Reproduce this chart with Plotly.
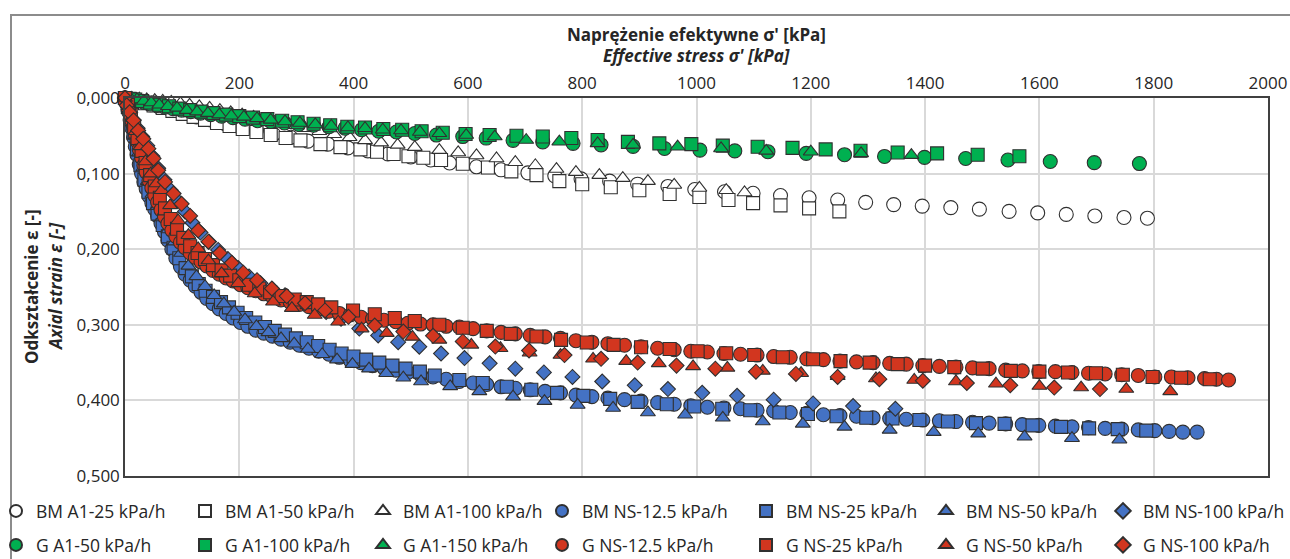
import plotly.graph_objects as go

# ---------------- data ----------------
# BM A1 series (white markers)
bm_a1_25_x = [0, 10, 20, 30, 45, 60, 80, 100, 125, 150, 175, 200, 230, 260, 290, 320, 355, 390, 425, 460, 500, 535,
              568, 615, 658, 705, 752, 798, 848, 897, 950, 997, 1049, 1099, 1147, 1197, 1247, 1296, 1345, 1395, 1445,
              1495, 1547, 1597, 1647, 1697, 1748, 1789]
bm_a1_25_y = [0, 0.002, 0.004, 0.006, 0.009, 0.012, 0.016, 0.020, 0.025, 0.029, 0.034, 0.038, 0.043, 0.048, 0.052,
              0.057, 0.061, 0.066, 0.070, 0.074, 0.078, 0.082, 0.086, 0.091, 0.095, 0.099, 0.103, 0.107, 0.110, 0.114,
              0.117, 0.121, 0.124, 0.126, 0.129, 0.132, 0.135, 0.138, 0.141, 0.143, 0.145, 0.147, 0.150, 0.152, 0.154,
              0.156, 0.158, 0.159]

bm_a1_50_x = [0, 10, 22, 35, 50, 66, 83, 101, 120, 140, 161, 183, 206, 230, 255, 281, 307, 342, 377, 412, 441, 470,
              496, 522, 553, 591, 635, 676, 720, 760, 800, 850, 900, 953, 1005, 1056, 1099, 1147, 1197, 1250]
bm_a1_50_y = [0, 0.002, 0.004, 0.007, 0.010, 0.013, 0.017, 0.021, 0.025, 0.029, 0.033, 0.037, 0.041, 0.045, 0.049,
              0.053, 0.056, 0.061, 0.065, 0.068, 0.071, 0.074, 0.077, 0.079, 0.082, 0.087, 0.092, 0.097, 0.102, 0.110,
              0.114, 0.118, 0.122, 0.127, 0.131, 0.135, 0.139, 0.142, 0.146, 0.150]

bm_a1_100_x = [0, 12, 25, 38, 52, 66, 81, 97, 113, 130, 148, 166, 185, 205, 225, 246, 268, 291, 315, 340, 366, 393,
               420, 448, 477, 507, 550, 583, 615, 650, 683, 718, 755, 789, 830, 871, 915, 961, 1005, 1052, 1084]
bm_a1_100_y = [0, 0.000, 0.001, 0.002, 0.003, 0.004, 0.005, 0.007, 0.009, 0.011, 0.013, 0.016, 0.019, 0.022, 0.025,
               0.029, 0.032, 0.036, 0.040, 0.044, 0.048, 0.052, 0.056, 0.059, 0.062, 0.065, 0.069, 0.072, 0.076, 0.080,
               0.085, 0.089, 0.094, 0.098, 0.102, 0.106, 0.110, 0.115, 0.119, 0.122, 0.125]

# BM NS series (blue markers)
bm_ns_12_x = [0, 3, 6, 9, 12, 15, 18, 21, 25, 29, 33, 37, 42, 47, 52, 57, 63, 69, 75, 82, 89, 97, 105, 114, 123, 133,
              143, 154, 165, 177, 189, 202, 215, 229, 243, 258, 273, 289, 305, 322, 339, 357, 375, 394, 413, 433, 453,
              474, 495, 517, 539, 562, 585, 609, 633, 658, 683, 709, 735, 762, 789, 817, 845, 874, 903, 932, 961, 990,
              1019, 1048, 1077, 1106, 1135, 1164, 1193, 1222, 1251, 1280, 1309, 1338, 1367, 1396, 1425, 1454, 1483,
              1512, 1541, 1570, 1599, 1628, 1657, 1686, 1715, 1744, 1773, 1802, 1827, 1851, 1876]
bm_ns_12_y = [0, 0.008, 0.018, 0.029, 0.040, 0.052, 0.064, 0.075, 0.088, 0.100, 0.111, 0.120, 0.130, 0.139, 0.147,
              0.156, 0.166, 0.177, 0.188, 0.200, 0.212, 0.223, 0.233, 0.241, 0.249, 0.257, 0.265, 0.272, 0.279, 0.285,
              0.291, 0.297, 0.302, 0.307, 0.311, 0.315, 0.319, 0.323, 0.327, 0.331, 0.335, 0.339, 0.343, 0.347, 0.350,
              0.354, 0.357, 0.360, 0.363, 0.366, 0.369, 0.372, 0.375, 0.377, 0.379, 0.382, 0.384, 0.386, 0.388, 0.390,
              0.393, 0.395, 0.397, 0.399, 0.401, 0.403, 0.405, 0.407, 0.409, 0.410, 0.411, 0.413, 0.414, 0.416, 0.417,
              0.419, 0.420, 0.421, 0.423, 0.424, 0.425, 0.426, 0.427, 0.428, 0.429, 0.430, 0.431, 0.432, 0.433, 0.434,
              0.435, 0.436, 0.437, 0.438, 0.439, 0.440, 0.441, 0.442, 0.442]

bm_ns_25_x = [0, 5, 10, 15, 21, 27, 34, 41, 49, 57, 66, 75, 85, 95, 106, 117, 129, 141, 154, 168, 182, 197, 212, 228,
              245, 262, 280, 299, 318, 338, 358, 379, 400, 422, 445, 468, 491, 516, 542, 585, 626, 668, 711, 756, 802,
              849, 897, 948, 996, 1045, 1094, 1145, 1195, 1245, 1297, 1343, 1390, 1440, 1489, 1539, 1588, 1638, 1687,
              1737, 1787]
bm_ns_25_y = [0, 0.012, 0.028, 0.046, 0.068, 0.089, 0.108, 0.124, 0.139, 0.153, 0.168, 0.183, 0.198, 0.212, 0.225,
              0.236, 0.246, 0.255, 0.263, 0.270, 0.277, 0.284, 0.291, 0.297, 0.303, 0.308, 0.313, 0.318, 0.323, 0.328,
              0.333, 0.338, 0.342, 0.346, 0.350, 0.354, 0.358, 0.362, 0.367, 0.373, 0.377, 0.382, 0.386, 0.390, 0.394,
              0.398, 0.402, 0.405, 0.408, 0.411, 0.413, 0.416, 0.418, 0.421, 0.423, 0.424, 0.426, 0.428, 0.430, 0.431,
              0.433, 0.435, 0.437, 0.438, 0.440]

bm_ns_50_x = [0, 6, 12, 18, 25, 32, 40, 48, 57, 66, 76, 87, 98, 111, 125, 140, 156, 173, 191, 210, 230, 251, 273, 296,
              320, 345, 371, 398, 427, 457, 487, 518, 569, 620, 679, 734, 792, 854, 915, 980, 1046, 1116, 1186, 1259,
              1338, 1415, 1493, 1574, 1657, 1740]
bm_ns_50_y = [0, 0.012, 0.030, 0.050, 0.072, 0.092, 0.110, 0.127, 0.143, 0.158, 0.174, 0.190, 0.205, 0.222, 0.236,
              0.249, 0.261, 0.272, 0.283, 0.293, 0.302, 0.310, 0.318, 0.325, 0.332, 0.339, 0.346, 0.352, 0.358, 0.364,
              0.370, 0.375, 0.3815, 0.388, 0.395, 0.401, 0.406, 0.410, 0.416, 0.419, 0.423, 0.428, 0.431, 0.435,
              0.439, 0.442, 0.444, 0.448, 0.450, 0.452]

bm_ns_100_x = [0, 4, 9, 15, 22, 30, 39, 48, 58, 69, 80, 92, 105, 118, 132, 147, 163, 180, 198, 217, 237, 258, 280,
               303, 327, 352, 378, 410, 443, 478, 515, 553, 594, 638, 683, 733, 783, 835, 892, 950, 1010, 1071, 1135,
               1204, 1274, 1348]
bm_ns_100_y = [0, 0.010, 0.019, 0.029, 0.040, 0.051, 0.063, 0.077, 0.093, 0.108, 0.122, 0.136, 0.150, 0.165, 0.178,
               0.190, 0.201, 0.213, 0.225, 0.236, 0.245, 0.253, 0.261, 0.269, 0.276, 0.283, 0.292, 0.305, 0.314, 0.323,
               0.329, 0.338, 0.344, 0.351, 0.358, 0.363, 0.369, 0.375, 0.380, 0.385, 0.390, 0.394, 0.399, 0.404,
               0.4075, 0.411]

# G A1 series (green markers)
g_a1_50_x = [0, 7, 15, 24, 34, 45, 57, 70, 84, 99, 115, 132, 150, 169, 189, 210, 232, 255, 279, 304, 330, 357, 385,
             414, 444, 475, 507, 545, 591, 632, 679, 731, 784, 833, 889, 944, 1006, 1067, 1125, 1192, 1259, 1329, 1399,
             1471, 1545, 1619, 1696, 1775]
g_a1_50_y = [0, 0.001, 0.002, 0.004, 0.006, 0.008, 0.010, 0.012, 0.014, 0.016, 0.018, 0.020, 0.022, 0.024, 0.026,
             0.028, 0.030, 0.031, 0.033, 0.035, 0.036, 0.038, 0.040, 0.042, 0.044, 0.045, 0.047, 0.049, 0.051, 0.053,
             0.056, 0.058, 0.060, 0.062, 0.064, 0.0667, 0.069, 0.070, 0.071, 0.0733, 0.075, 0.0773, 0.0785, 0.080,
             0.082, 0.084, 0.0855, 0.0867]

g_a1_100_x = [0, 8, 18, 30, 44, 60, 77, 95, 114, 134, 155, 177, 200, 224, 249, 275, 302, 330, 359, 389, 420, 452, 485,
              519, 556, 596, 638, 685, 731, 781, 827, 880, 935, 991, 1046, 1107, 1168, 1226, 1287, 1352, 1421, 1492,
              1565]
g_a1_100_y = [0, 0.001, 0.002, 0.004, 0.006, 0.009, 0.011, 0.014, 0.016, 0.018, 0.020, 0.022, 0.024, 0.026, 0.028,
              0.030, 0.032, 0.034, 0.036, 0.038, 0.039, 0.041, 0.042, 0.044, 0.046, 0.0476, 0.049, 0.050, 0.051, 0.053,
              0.0556, 0.058, 0.060, 0.061, 0.063, 0.0645, 0.066, 0.068, 0.0698, 0.072, 0.0733, 0.075, 0.077]

g_a1_150_x = [0, 10, 21, 33, 46, 60, 75, 91, 108, 126, 145, 165, 186, 208, 231, 255, 280, 306, 333, 361, 390, 420,
              451, 483, 516, 550, 597, 647, 702, 760, 827, 889, 967, 1043, 1122, 1200, 1288, 1376]
g_a1_150_y = [0, 0.001, 0.002, 0.004, 0.006, 0.009, 0.011, 0.013, 0.016, 0.018, 0.020, 0.022, 0.0235, 0.025, 0.027,
              0.029, 0.031, 0.033, 0.035, 0.037, 0.039, 0.040, 0.042, 0.043, 0.045, 0.0467, 0.049, 0.051, 0.0556,
              0.0578, 0.060, 0.062, 0.0644, 0.0667, 0.070, 0.071, 0.0733, 0.0756]

# G NS series (red markers)
g_ns_12_x = [0, 3, 6, 9, 12, 15, 18, 21, 25, 29, 33, 37, 42, 47, 52, 57, 63, 69, 75, 82, 89, 97, 105, 114, 123, 133,
             143, 154, 165, 177, 189, 202, 215, 229, 243, 258, 273, 289, 305, 322, 339, 357, 375, 394, 413, 433, 453,
             474, 495, 517, 539, 562, 585, 609, 633, 658, 683, 709, 735, 762, 789, 817, 845, 874, 903, 932, 961, 990,
             1019, 1048, 1077, 1106, 1135, 1164, 1193, 1222, 1251, 1280, 1309, 1338, 1367, 1396, 1425, 1454, 1483,
             1512, 1541, 1570, 1599, 1628, 1657, 1686, 1715, 1744, 1773, 1802, 1831, 1860, 1889, 1910, 1931]
g_ns_12_y = [0, 0.006, 0.013, 0.021, 0.030, 0.039, 0.048, 0.057, 0.068, 0.079, 0.089, 0.098, 0.109, 0.119, 0.129,
             0.138, 0.148, 0.157, 0.166, 0.175, 0.183, 0.191, 0.198, 0.205, 0.211, 0.217, 0.222, 0.228, 0.233, 0.238,
             0.242, 0.247, 0.251, 0.255, 0.259, 0.263, 0.267, 0.270, 0.273, 0.276, 0.279, 0.282, 0.285, 0.287, 0.290,
             0.292, 0.294, 0.296, 0.298, 0.299, 0.300, 0.302, 0.303, 0.305, 0.308, 0.310, 0.312, 0.314, 0.316, 0.318,
             0.321, 0.323, 0.325, 0.327, 0.329, 0.331, 0.333, 0.335, 0.336, 0.338, 0.339, 0.340, 0.342, 0.343, 0.345,
             0.346, 0.348, 0.349, 0.350, 0.351, 0.352, 0.354, 0.355, 0.356, 0.357, 0.358, 0.360, 0.361, 0.362, 0.362,
             0.363, 0.364, 0.365, 0.366, 0.367, 0.369, 0.369, 0.370, 0.371, 0.372, 0.373]

g_ns_25_x = [0, 5, 10, 16, 22, 29, 36, 44, 52, 61, 70, 80, 91, 102, 114, 127, 140, 154, 169, 184, 200, 217, 235, 254,
             274, 297, 318, 338, 361, 399, 437, 472, 507, 550, 591, 633, 675, 720, 763, 808, 855, 903, 953, 1002, 1052,
             1101, 1151, 1204, 1252, 1303, 1352, 1400, 1451, 1501, 1550, 1600, 1650, 1699, 1746, 1798, 1848, 1898]
g_ns_25_y = [0, 0.009, 0.022, 0.038, 0.053, 0.070, 0.086, 0.102, 0.117, 0.132, 0.146, 0.160, 0.173, 0.185, 0.196,
             0.205, 0.213, 0.221, 0.228, 0.235, 0.241, 0.247, 0.252, 0.257, 0.262, 0.2665, 0.270, 0.273, 0.277, 0.281,
             0.286, 0.291, 0.295, 0.300, 0.304, 0.308, 0.312, 0.3155, 0.320, 0.3235, 0.3265, 0.3296, 0.332, 0.335,
             0.3376, 0.340, 0.343, 0.3456, 0.348, 0.350, 0.352, 0.354, 0.356, 0.358, 0.361, 0.362, 0.363, 0.364,
             0.366, 0.369, 0.370, 0.372]

g_ns_50_x = [0, 6, 12, 19, 27, 36, 45, 55, 64, 79, 93, 111, 128, 146, 169, 198, 227, 259, 292, 332, 373, 414, 458,
             503, 550, 606, 657, 708, 762, 819, 877, 934, 994, 1054, 1116, 1183, 1247, 1314, 1381, 1454, 1524, 1600,
             1673, 1752, 1829]
g_ns_50_y = [0, 0.011, 0.026, 0.044, 0.064, 0.084, 0.100, 0.113, 0.122, 0.142, 0.162, 0.1815, 0.199, 0.215, 0.232,
             0.245, 0.2586, 0.2696, 0.278, 0.287, 0.296, 0.305, 0.311, 0.316, 0.320, 0.3265, 0.331, 0.337, 0.340,
             0.345, 0.348, 0.351, 0.355, 0.357, 0.361, 0.364, 0.368, 0.371, 0.373, 0.375, 0.378, 0.381, 0.383, 0.385,
             0.388]

g_ns_100_x = [0, 3, 8, 15, 23, 32, 41, 50, 58, 70, 85, 99, 114, 128, 146, 166, 187, 207, 231, 257, 283, 315, 350, 391,
              437, 487, 539, 591, 648, 707, 769, 833, 897, 965, 1033, 1104, 1174, 1247, 1320, 1396, 1473, 1549, 1626,
              1706]
g_ns_100_y = [0, 0.0097, 0.019, 0.0295, 0.043, 0.054, 0.067, 0.080, 0.0956, 0.111, 0.1264, 0.140, 0.156, 0.175,
              0.190, 0.205, 0.218, 0.231, 0.241, 0.252, 0.262, 0.2715, 0.281, 0.2895, 0.301, 0.309, 0.3146, 0.322,
              0.3288, 0.334, 0.340, 0.345, 0.350, 0.354, 0.358, 0.362, 0.365, 0.369, 0.372, 0.374, 0.377, 0.380,
              0.383, 0.385]

series_names = ["BM A1-25 kPa/h", "BM A1-50 kPa/h", "BM A1-100 kPa/h", "BM NS-12.5 kPa/h", "BM NS-25 kPa/h",
                "BM NS-50 kPa/h", "BM NS-100 kPa/h", "G A1-50 kPa/h", "G A1-100 kPa/h", "G A1-150 kPa/h",
                "G NS-12.5 kPa/h", "G NS-25 kPa/h", "G NS-50 kPa/h", "G NS-100 kPa/h"]
series_x = [bm_a1_25_x, bm_a1_50_x, bm_a1_100_x, bm_ns_12_x, bm_ns_25_x, bm_ns_50_x, bm_ns_100_x,
            g_a1_50_x, g_a1_100_x, g_a1_150_x, g_ns_12_x, g_ns_25_x, g_ns_50_x, g_ns_100_x]
series_y = [bm_a1_25_y, bm_a1_50_y, bm_a1_100_y, bm_ns_12_y, bm_ns_25_y, bm_ns_50_y, bm_ns_100_y,
            g_a1_50_y, g_a1_100_y, g_a1_150_y, g_ns_12_y, g_ns_25_y, g_ns_50_y, g_ns_100_y]

# ---------------- styling ----------------
WHITE, BLUE, GREEN, RED = "#FFFFFF", "#4472C4", "#00B050", "#D2361F"
fills = [WHITE, WHITE, WHITE, BLUE, BLUE, BLUE, BLUE, GREEN, GREEN, GREEN, RED, RED, RED, RED]
symbols = ["circle", "square", "triangle-up", "circle", "square", "triangle-up", "diamond",
           "circle", "square", "triangle-up", "circle", "square", "triangle-up", "diamond"]
sizes = {"circle": 14, "square": 13, "triangle-up": 13, "diamond": 11.5}

FONT = "Open Sans"
TXT = "#262626"

W, H = 1290, 559
ML, MR, MT, MB = 125, 22, 98, 83
PW, PH = W - ML - MR, H - MT - MB


def px_x(px):
    return (px - ML) / PW


def px_y(py):
    return (H - MB - py) / PH


fig = go.Figure()

# legend columns (text start in pixels) and rows (pixel centre)
col_text_px = [30, 219, 397, 576, 780, 960, 1137]
row_px = [511, 545]

layout_legends = {}
for i, (name, xs, ys) in enumerate(zip(series_names, series_x, series_y)):
    sym = symbols[i]
    lname = "legend" if i == 0 else f"legend{i + 1}"
    fig.add_trace(go.Scatter(
        x=xs, y=ys, mode="markers", name=name, legend=lname, cliponaxis=False,
        marker=dict(symbol=sym, size=sizes[sym], color=fills[i],
                    line=dict(color="#303030", width=1.1)),
    ))
    col = i % 7
    row = i // 7
    layout_legends[lname] = dict(
        x=px_x(col_text_px[col] - 34), y=px_y(row_px[row]), xanchor="left", yanchor="middle",
        bgcolor="rgba(0,0,0,0)", borderwidth=0, itemsizing="constant",
        font=dict(family=FONT, size=17.5, color=TXT), itemclick=False, itemdoubleclick=False,
    )

fig.update_layout(
    width=W, height=H,
    margin=dict(l=ML, r=MR, t=MT, b=MB, autoexpand=False),
    paper_bgcolor="white", plot_bgcolor="white",
    font=dict(family=FONT, size=17, color=TXT),
    separators=", ",
    showlegend=True,
    **layout_legends,
)

fig.update_xaxes(
    side="top", range=[0, 2000], dtick=200, tick0=0, tickformat="d",
    showgrid=True, gridcolor="#D9D9D9", gridwidth=1.5,
    showline=True, linecolor="#404040", linewidth=1.5, mirror=True,
    ticks="", zeroline=False, tickfont=dict(family=FONT, size=17, color=TXT),
)
fig.update_yaxes(
    range=[0.5, 0], dtick=0.1, tick0=0, tickformat=".3f",
    showgrid=True, gridcolor="#D9D9D9", gridwidth=1.5,
    showline=True, linecolor="#404040", linewidth=1.5, mirror=True,
    ticks="", zeroline=False, tickfont=dict(family=FONT, size=17, color=TXT),
)

annotations = [
    dict(text="<b>Naprężenie efektywne σ' [kPa]</b>", x=0.5, y=px_y(35), xref="paper", yref="paper",
         showarrow=False, xanchor="center", yanchor="middle", font=dict(family=FONT, size=17, color=TXT)),
    dict(text="<i><b>Effective stress σ' [kPa]</b></i>", x=0.5, y=px_y(56), xref="paper", yref="paper",
         showarrow=False, xanchor="center", yanchor="middle", font=dict(family=FONT, size=17, color=TXT)),
    dict(text="<b>Odkształcenie ε [-]</b>", x=px_x(31), y=0.5, xref="paper", yref="paper", textangle=-90,
         showarrow=False, xanchor="center", yanchor="middle", font=dict(family=FONT, size=17, color=TXT)),
    dict(text="<i><b>Axial strain ε [-]</b></i>", x=px_x(55), y=0.5, xref="paper", yref="paper", textangle=-90,
         showarrow=False, xanchor="center", yanchor="middle", font=dict(family=FONT, size=17, color=TXT)),
]
fig.update_layout(annotations=annotations)

# outer chart frame
fig.add_shape(type="rect", xref="paper", yref="paper",
              x0=px_x(11), x1=px_x(1305), y0=px_y(575), y1=px_y(15),
              line=dict(color="#8C8C8C", width=2), fillcolor="rgba(0,0,0,0)", layer="below")

fig.write_html("out.html")
